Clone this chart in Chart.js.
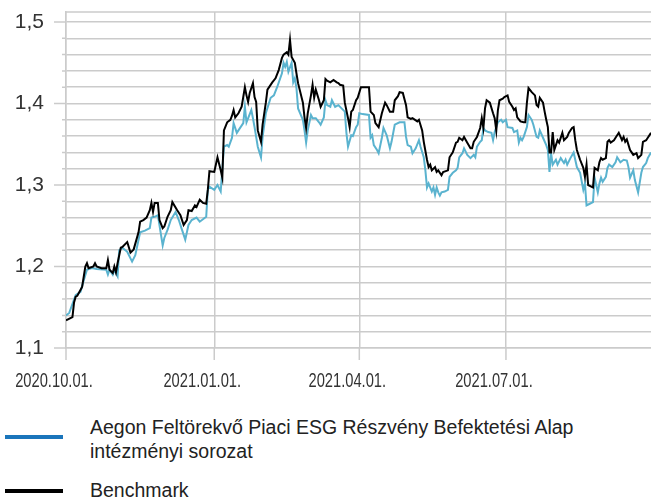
<!DOCTYPE html>
<html>
<head>
<meta charset="utf-8">
<script src="https://cdn.jsdelivr.net/npm/chart.js@4.4.0/dist/chart.umd.min.js"></script>
<style>
  body { margin: 0; background: #fff; width: 651px; height: 498px; overflow: hidden; position: relative; }
  #chart { position: absolute; left: 0; top: 0; }
  .swatch { position: absolute; left: 5px; width: 58px; height: 4px; }
  .label { position: absolute; left: 90px; font: 19.5px "Liberation Sans", Arial, sans-serif; line-height: 24px; color: #222; white-space: nowrap; }
</style>
</head>
<body>
<canvas id="chart" width="651" height="400"></canvas>
<div class="swatch" style="top:435px;background:#1a75bb"></div>
<div class="label" style="top:415px">Aegon Feltörekvő Piaci ESG Részvény Befektetési Alap<br>intézményi sorozat</div>
<div class="swatch" style="top:489px;background:#000"></div>
<div class="label" style="top:478px">Benchmark</div>
<script>
// day offset from 2020.10.01., value
const fundSeries = [
  [0,1.140],[2,1.143],[6,1.165],[9,1.169],[11,1.183],[13,1.196],[16,1.198],[19,1.197],[25,1.196],[26,1.190],
  [27,1.196],[29,1.190],[30,1.196],[32,1.188],[33,1.220],[35,1.223],[38,1.218],[41,1.206],[43,1.214],[46,1.242],
  [49,1.244],[52,1.247],[53,1.260],[55,1.261],[57,1.263],[60,1.226],[61,1.235],[63,1.245],[65,1.257],[68,1.267],
  [70,1.257],[72,1.245],[74,1.233],[76,1.251],[78,1.257],[81,1.260],[83,1.255],[87,1.261],[88,1.294],[89,1.298],
  [92,1.294],[94,1.300],[96,1.292],[98,1.347],[100,1.349],[101,1.347],[103,1.358],[104,1.376],[106,1.364],[107,1.367],
  [110,1.376],[111,1.396],[112,1.377],[115,1.392],[116,1.382],[117,1.371],[119,1.347],[121,1.334],[122,1.359],[124,1.388],
  [127,1.407],[129,1.410],[131,1.420],[134,1.437],[135,1.450],[136,1.445],[137,1.451],[138,1.439],[140,1.450],[141,1.426],
  [142,1.431],[143,1.419],[144,1.394],[147,1.380],[148,1.367],[149,1.352],[150,1.367],[152,1.386],[153,1.382],[155,1.382],
  [157,1.377],[158,1.374],[160,1.383],[161,1.404],[162,1.398],[164,1.396],[165,1.404],[167,1.396],[169,1.398],[171,1.394],
  [173,1.390],[174,1.364],[175,1.347],[177,1.361],[178,1.360],[180,1.371],[181,1.374],[182,1.388],[184,1.387],[188,1.386],
  [189,1.358],[190,1.361],[191,1.349],[193,1.343],[194,1.339],[196,1.358],[197,1.370],[199,1.361],[201,1.345],[202,1.353],
  [204,1.374],[207,1.377],[210,1.377],[211,1.359],[212,1.349],[214,1.347],[215,1.339],[217,1.345],[219,1.355],[220,1.347],
  [222,1.334],[223,1.318],[224,1.297],[225,1.302],[227,1.292],[228,1.297],[229,1.288],[230,1.297],[231,1.291],[232,1.287],
  [233,1.291],[235,1.292],[237,1.294],[238,1.310],[240,1.315],[242,1.318],[243,1.321],[244,1.334],[246,1.339],[247,1.345],
  [249,1.337],[251,1.333],[253,1.337],[254,1.334],[255,1.347],[257,1.353],[258,1.355],[259,1.370],[260,1.367],[262,1.365],
  [264,1.364],[265,1.355],[266,1.365],[268,1.377],[270,1.380],[271,1.377],[273,1.380],[274,1.371],[277,1.370],[278,1.365],
  [280,1.367],[281,1.352],[282,1.358],[283,1.355],[284,1.359],[286,1.371],[287,1.386],[289,1.380],[290,1.374],[292,1.359],
  [293,1.358],[294,1.367],[296,1.358],[298,1.349],[299,1.343],[300,1.316],[301,1.339],[302,1.325],[304,1.331],[305,1.325],
  [307,1.333],[309,1.327],[310,1.331],[311,1.325],[313,1.333],[315,1.340],[316,1.331],[317,1.322],[319,1.315],[321,1.294],
  [322,1.302],[323,1.275],[325,1.277],[327,1.279],[328,1.309],[330,1.291],[331,1.302],[332,1.309],[333,1.304],[335,1.310],
  [336,1.321],[337,1.325],[339,1.322],[341,1.328],[342,1.334],[344,1.328],[346,1.331],[348,1.330],[349,1.322],[350,1.309],
  [352,1.318],[353,1.306],[355,1.291],[357,1.315],[358,1.322],[360,1.327],[361,1.333],[363,1.340]
];

const benchmarkSeries = [
  [0,1.134],[4,1.138],[5,1.156],[6,1.163],[7,1.164],[10,1.175],[12,1.200],[13,1.204],[14,1.198],[17,1.200],
  [18,1.204],[19,1.200],[22,1.198],[25,1.198],[26,1.208],[27,1.196],[29,1.192],[30,1.200],[31,1.193],[32,1.204],
  [34,1.223],[35,1.224],[38,1.230],[40,1.217],[42,1.221],[45,1.242],[46,1.255],[48,1.257],[50,1.260],[52,1.269],
  [53,1.278],[54,1.267],[55,1.278],[57,1.278],[58,1.257],[60,1.247],[61,1.249],[63,1.261],[65,1.269],[66,1.279],
  [69,1.269],[71,1.263],[73,1.251],[75,1.257],[76,1.269],[78,1.268],[80,1.275],[81,1.273],[83,1.282],[85,1.278],
  [87,1.277],[88,1.294],[89,1.317],[92,1.316],[94,1.334],[96,1.318],[97,1.309],[98,1.367],[100,1.377],[102,1.380],
  [103,1.385],[104,1.392],[105,1.383],[107,1.388],[109,1.396],[110,1.408],[111,1.420],[112,1.410],[113,1.402],[114,1.413],
  [116,1.425],[117,1.408],[118,1.402],[119,1.367],[121,1.353],[122,1.374],[124,1.401],[125,1.417],[128,1.426],[130,1.431],
  [132,1.441],[134,1.456],[135,1.460],[137,1.463],[138,1.460],[139,1.478],[140,1.457],[142,1.450],[143,1.437],[144,1.425],
  [147,1.401],[148,1.383],[149,1.370],[150,1.388],[152,1.410],[153,1.423],[154,1.407],[155,1.417],[157,1.404],[158,1.396],
  [160,1.404],[161,1.430],[162,1.428],[164,1.426],[166,1.429],[168,1.426],[169,1.425],[170,1.423],[172,1.422],[173,1.401],
  [175,1.382],[176,1.371],[177,1.390],[178,1.392],[180,1.404],[181,1.407],[183,1.420],[188,1.420],[189,1.390],[191,1.386],
  [192,1.376],[194,1.371],[196,1.388],[198,1.401],[199,1.398],[201,1.390],[203,1.390],[204,1.404],[206,1.409],[207,1.414],
  [209,1.413],[211,1.398],[212,1.383],[214,1.381],[215,1.382],[218,1.378],[219,1.380],[221,1.367],[222,1.353],[224,1.331],
  [225,1.322],[226,1.325],[227,1.318],[229,1.322],[230,1.316],[231,1.318],[233,1.312],[234,1.316],[237,1.318],[238,1.334],
  [240,1.340],[242,1.352],[243,1.353],[244,1.358],[246,1.355],[247,1.359],[249,1.352],[251,1.345],[252,1.345],[253,1.353],
  [255,1.359],[257,1.370],[258,1.382],[259,1.370],[260,1.394],[261,1.404],[263,1.401],[265,1.388],[266,1.382],[267,1.367],
  [268,1.392],[269,1.404],[271,1.406],[272,1.408],[274,1.410],[275,1.402],[277,1.396],[278,1.392],[279,1.394],[280,1.383],
  [282,1.378],[284,1.377],[285,1.377],[286,1.401],[287,1.419],[289,1.414],[291,1.410],[292,1.398],[293,1.396],[294,1.407],
  [296,1.401],[297,1.390],[298,1.380],[299,1.371],[300,1.340],[301,1.340],[302,1.365],[303,1.343],[304,1.349],[305,1.355],
  [306,1.352],[308,1.364],[309,1.355],[311,1.359],[312,1.364],[314,1.370],[315,1.371],[316,1.355],[317,1.343],[319,1.331],
  [321,1.321],[322,1.310],[323,1.325],[324,1.300],[325,1.299],[327,1.297],[328,1.321],[330,1.318],[331,1.328],[332,1.333],
  [333,1.331],[335,1.333],[336,1.353],[337,1.355],[338,1.352],[340,1.355],[341,1.358],[342,1.361],[343,1.364],[345,1.355],
  [346,1.359],[347,1.353],[348,1.356],[350,1.343],[351,1.340],[352,1.337],[354,1.339],[355,1.333],[357,1.337],[358,1.353],
  [360,1.355],[361,1.358],[363,1.364]
];

const xTickDays = [0, 92, 182, 273];
const xTickLabels = ["2020.10.01.", "2021.01.01.", "2021.04.01.", "2021.07.01."];
const yTicks = [1.10, 1.12, 1.14, 1.16, 1.18, 1.20, 1.22, 1.24, 1.26, 1.28, 1.30,
                1.32, 1.34, 1.36, 1.38, 1.40, 1.42, 1.44, 1.46, 1.48, 1.50];

const gridColor = "#cbcbcb";
const isMajor = v => Math.abs(v * 10 - Math.round(v * 10)) < 1e-6;

// drop the label overflow padding so the plot area stays where the reference has it
function noPadding(s) {
  s.paddingLeft = 0;
  s.paddingRight = 0;
  s.paddingTop = 0;
  s.paddingBottom = 0;
}

const axisMarks = {
  id: "axisMarks",
  beforeDatasetsDraw(chart) {
    const { ctx, chartArea: a, scales: { x, y } } = chart;
    ctx.save();
    ctx.strokeStyle = gridColor;
    ctx.lineWidth = 1.5;
    ctx.beginPath();
    ctx.moveTo(a.left, a.top);
    ctx.lineTo(a.right, a.top);
    y.ticks.forEach(t => {
      const py = y.getPixelForValue(t.value);
      const len = isMajor(t.value) ? 12 : 4;
      ctx.moveTo(a.left - len, py);
      ctx.lineTo(a.left, py);
    });
    x.ticks.forEach(t => {
      const px = x.getPixelForValue(t.value);
      ctx.moveTo(px, a.bottom);
      ctx.lineTo(px, a.bottom + 12);
    });
    ctx.stroke();

    // date labels: tall but narrow, like the condensed face of the original
    ctx.fillStyle = "#333";
    ctx.font = "21px 'Liberation Sans', Arial, sans-serif";
    ctx.textAlign = "center";
    ctx.textBaseline = "alphabetic";
    x.ticks.forEach((t, i) => {
      ctx.save();
      ctx.translate(x.getPixelForValue(t.value) - 12, a.bottom + 39);
      ctx.scale(0.7, 1);
      ctx.fillText(xTickLabels[i], 0, 0);
      ctx.restore();
    });
    ctx.restore();
  }
};

new Chart(document.getElementById("chart"), {
  type: "line",
  data: {
    datasets: [{
      label: "Aegon Feltörekvő Piaci ESG Részvény Befektetési Alap intézményi sorozat",
      data: fundSeries.map(p => ({ x: p[0], y: p[1] })),
      borderColor: "#5ab3cf",
      borderWidth: 2,
      pointRadius: 0,
      tension: 0,
      order: 1
    }, {
      label: "Benchmark",
      data: benchmarkSeries.map(p => ({ x: p[0], y: p[1] })),
      borderColor: "#000000",
      borderWidth: 2,
      pointRadius: 0,
      tension: 0,
      order: 0
    }]
  },
  options: {
    responsive: false,
    animation: false,
    layout: { padding: { top: 12, right: 0, left: 0, bottom: 0 } },
    plugins: { legend: { display: false }, tooltip: { enabled: false } },
    scales: {
      x: {
        type: "linear",
        min: 0,
        max: 363,
        afterBuildTicks: s => { s.ticks = xTickDays.map(v => ({ value: v })); },
        afterFit: s => { s.height = 52; noPadding(s); },
        grid: { color: gridColor, lineWidth: 1.5, drawTicks: false },
        border: { color: gridColor, width: 1.5 },
        ticks: { display: false, autoSkip: false }
      },
      y: {
        min: 1.1,
        max: 1.5123,
        afterBuildTicks: s => { s.ticks = yTicks.map(v => ({ value: v })); },
        afterFit: s => { s.width = 66; noPadding(s); },
        grid: { color: gridColor, lineWidth: 1.5, drawTicks: false },
        border: { color: gridColor, width: 1.5 },
        ticks: {
          autoSkip: false,
          padding: 22,
          color: "#333",
          font: { family: "'Liberation Sans', Arial, sans-serif", size: 21 },
          callback: v => isMajor(v) ? v.toFixed(1).replace(".", ",") : ""
        }
      }
    }
  },
  plugins: [axisMarks]
});
</script>
</body>
</html>
